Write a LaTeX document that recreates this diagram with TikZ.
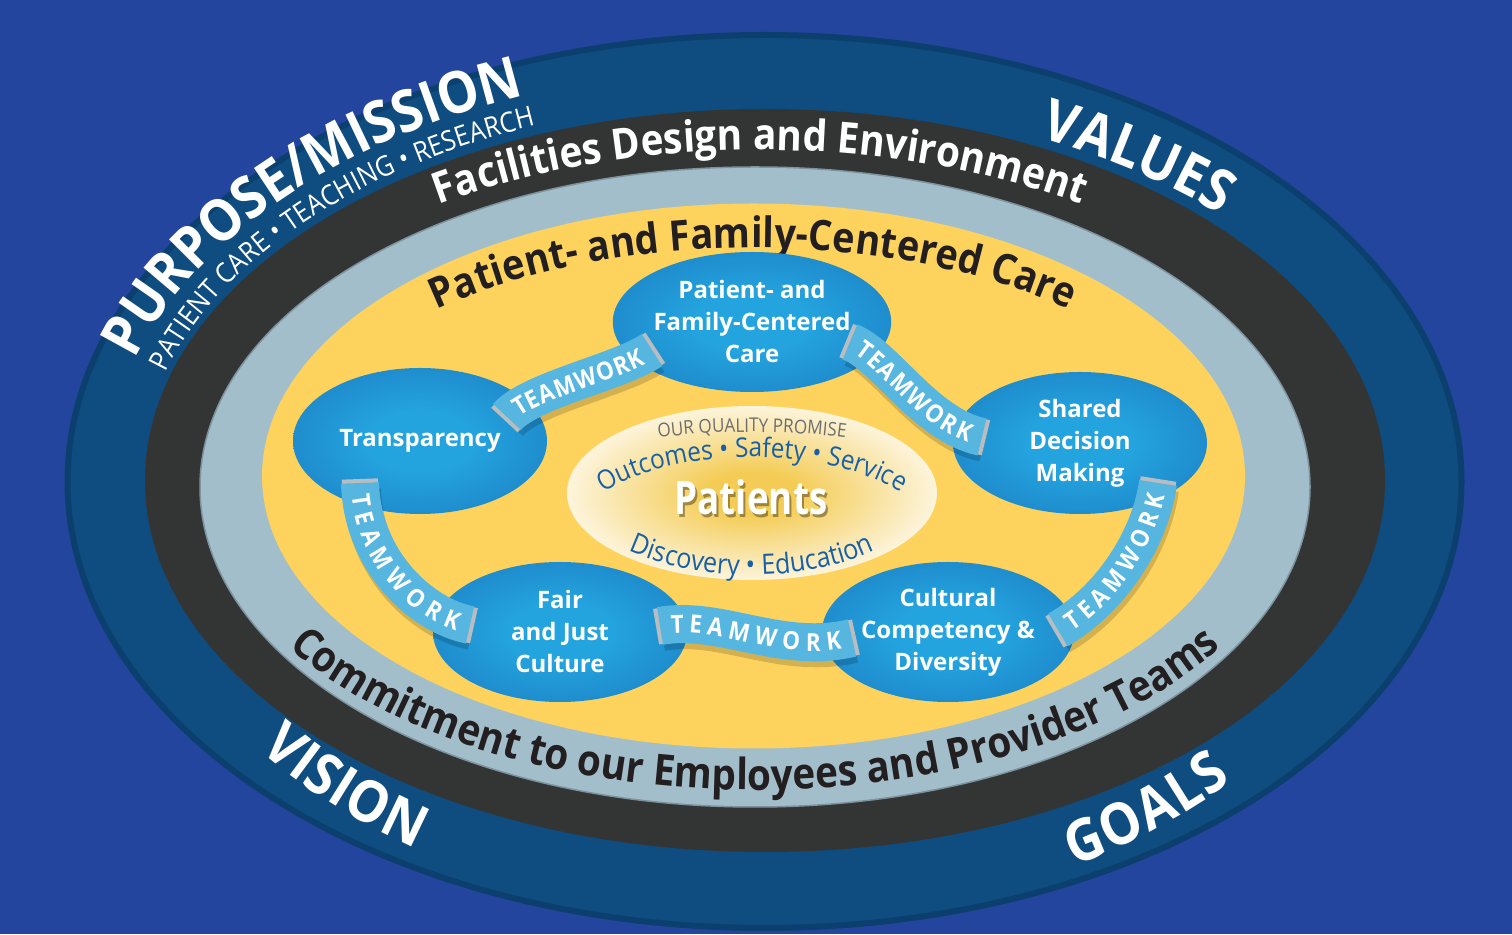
\documentclass[tikz,border=0pt]{standalone}
\usepackage{fontspec}
\setmainfont{Open Sans}
\newfontfamily\ringfont[FakeStretch=0.9]{Open Sans}
\newfontfamily\narrowfont[FakeStretch=0.8]{Open Sans}
\usetikzlibrary{shapes.geometric,decorations.text}

\definecolor{bgblue}{HTML}{24459E}
\definecolor{outerblue}{HTML}{0F4C7F}
\definecolor{outerrim}{HTML}{0B3F6E}
\definecolor{ringblack}{HTML}{333535}
\definecolor{ringgrey}{HTML}{A3BECB}
\definecolor{ringgreyedge}{HTML}{7E939D}
\definecolor{careyellow}{HTML}{FDD35E}
\definecolor{discin}{HTML}{24A4DF}
\definecolor{discout}{HTML}{1666B2}
\definecolor{teamblue}{HTML}{56B6E0}
\definecolor{tabgrey}{HTML}{B9BDC0}
\definecolor{inktext}{HTML}{231F20}
\definecolor{promiseblue}{HTML}{1760A8}
\definecolor{promisegrey}{HTML}{6D6E70}
\definecolor{glowin}{HTML}{F4CC55}

\pgfdeclareradialshading{bluedisc}{\pgfpoint{0bp}{0bp}}{color(0bp)=(discin); color(10bp)=(discin); color(50bp)=(discout)}
\pgfdeclareradialshading{patientglow}{\pgfpoint{0bp}{0bp}}{color(0bp)=(glowin); color(6bp)=(glowin); color(30bp)=(white); color(50bp)=(white)}

\tikzset{
	disc/.style={ellipse, shade, shading=bluedisc, minimum width=254pt, minimum height=140pt, inner sep=0pt,
		text=white, align=center, font=\bfseries\fontsize{24}{32}\selectfont},
	ribbon/.style={line width=38pt, draw=teamblue,
		preaction={draw=black, draw opacity=0.16, line width=38pt, transform canvas={xshift=2pt, yshift=-6pt}},
		preaction={draw=tabgrey, line width=36pt, shorten <=-4pt, shorten >=-4pt},
		postaction={decorate, decoration={text along path, text color=white, raise=-8.9pt,
			text={|\ringfont\bfseries\fontsize{25}{25}\selectfont|TEAMWORK},
			text align={fit to path, left indent=11pt, right indent=11pt}}}}
}

\begin{document}
\begin{tikzpicture}[x=1pt, y=1pt]
	\useasboundingbox (0,0) rectangle (1512,934);
	\fill[bgblue] (0,0) rectangle (1512,934);

	% rings
	\coordinate (ringc) at (764,453);
	\coordinate (blackc) at (760,454);
	\coordinate (greyc) at (755,447);
	\coordinate (yellowc) at (753,458);
	\fill[outerblue, draw=outerrim, line width=6pt] (764.5,452.5) ellipse [x radius=697pt, y radius=446.5pt];
	\fill[ringblack] (765,453.5) ellipse [x radius=620pt, y radius=371.5pt];
	\fill[ringgrey, draw=ringgreyedge, line width=1.5pt] (greyc) ellipse [x radius=555pt, y radius=320pt];
	\fill[careyellow] (753.5,458) ellipse [x radius=491.5pt, y radius=272.5pt];

	% words round the outer ring
	\path[decorate, decoration={text along path, text color=white,
		text={|\ringfont\bfseries\fontsize{58}{58}\selectfont|PURPOSE/MISSION}}]
		([shift={(ringc)}]163:658pt and 414pt) arc[start angle=163, end angle=80, x radius=658pt, y radius=414pt];
	\path[decorate, decoration={text along path, text color=white,
		text={|\ringfont\fontsize{28}{28}\selectfont|PATIENT CARE • TEACHING • RESEARCH}}]
		([shift={(ringc)}]163.5:624pt and 382pt) arc[start angle=163.5, end angle=80, x radius=624pt, y radius=382pt];
	\path[decorate, decoration={text along path, text color=white, text align={fit to path},
		text={|\ringfont\bfseries\fontsize{58}{58}\selectfont|VALUES}}]
		([shift={(ringc)}]64.5:640pt and 380pt) arc[start angle=64.5, end angle=44.5, x radius=640pt, y radius=380pt];
	\path[decorate, decoration={text along path, text color=white, text align={fit to path},
		text={|\ringfont\bfseries\fontsize{58}{58}\selectfont|VISION}}]
		([shift={(ringc)}]218:640pt and 438pt) arc[start angle=218, end angle=237, x radius=640pt, y radius=438pt];
	\path[decorate, decoration={text along path, text color=white, text align={fit to path},
		text={|\ringfont\bfseries\fontsize{58}{58}\selectfont|GOALS}}]
		([shift={(ringc)}]299:640pt and 440pt) arc[start angle=299, end angle=317, x radius=640pt, y radius=440pt];

	% inner rings
	\path[decorate, decoration={text along path, text color=white, text align=center,
		text={|\ringfont\bfseries\fontsize{43}{43}\selectfont|Facilities Design and Environment}}]
		([shift={(blackc)}]140:585pt and 330pt) arc[start angle=140, end angle=40, x radius=585pt, y radius=330pt];
	\path[decorate, decoration={text along path, text color=inktext, text align=center,
		text={|\ringfont\bfseries\fontsize{43}{43}\selectfont|Commitment to our Employees and Provider Teams}}]
		([shift={(greyc)}]200:549pt and 303pt) arc[start angle=200, end angle=340, x radius=549pt, y radius=303pt];
	\path[decorate, decoration={text along path, text color=inktext, text align=center,
		text={|\ringfont\bfseries\fontsize{42}{42}\selectfont|Patient- and Family-Centered Care}}]
		([shift={(yellowc)}]155:462pt and 228pt) arc[start angle=155, end angle=25, x radius=462pt, y radius=228pt];

	% quality promise
	\coordinate (promisec) at (752,441);
	\shade[shading=patientglow] (promisec) ellipse [x radius=185pt, y radius=87pt];
	\path[decorate, decoration={text along path, text color=promisegrey, text align=center,
		text={|\ringfont\fontsize{19}{19}\selectfont|OUR QUALITY PROMISE}}]
		([shift={(promisec)}]130:220pt and 61pt) arc[start angle=130, end angle=50, x radius=220pt, y radius=61pt];
	\path[decorate, decoration={text along path, text color=promiseblue, text align=center,
		text={|\ringfont\fontsize{27}{27}\selectfont|Outcomes • Safety • Service}}]
		([shift={(752,392)}]170:182pt and 85pt) arc[start angle=170, end angle=10, x radius=182pt, y radius=85pt];
	\path[decorate, decoration={text along path, text color=promiseblue, text align=center,
		text={|\ringfont\fontsize{28}{28}\selectfont|Discovery • Education}}]
		([shift={(752,464)}]205:191pt and 105pt) arc[start angle=205, end angle=335, x radius=191pt, y radius=105pt];
	\node[font=\narrowfont\bfseries\fontsize{46}{46}\selectfont, text=black!70!glowin, opacity=0.5] (patientsshade) at (753,434) {Patients};
	\node[font=\narrowfont\bfseries\fontsize{46}{46}\selectfont, text=white] (patients) at (751,437) {Patients};

	% discs
	\node[disc] (pfcc) at (752,612) {Patient- and\\Family-Centered\\Care};
	\node[disc, minimum height=146pt] (transp) at (420,493) {Transparency};
	\node[disc, minimum height=142pt] (shared) at (1080,491) {Shared\\Decision\\Making};
	\node[disc] (fair) at (560,302) {Fair\\and Just\\Culture};
	\node[disc, minimum width=252pt] (cultural) at (948,302) {Cultural\\Competency \&\\Diversity};

	% teamwork ribbons
	\coordinate (ta1) at (507,517); \coordinate (ta2) at (530,544);
	\coordinate (ta3) at (620,562); \coordinate (ta4) at (652,584);
	\coordinate (tb1) at (850,592); \coordinate (tb2) at (885,579);
	\coordinate (tb3) at (925,509); \coordinate (tb4) at (982,497);
	\coordinate (tc1) at (1058,304); \coordinate (tc2) at (1110,334);
	\coordinate (tc3) at (1150,394); \coordinate (tc4) at (1158,451);
	\coordinate (td1) at (360,451); \coordinate (td2) at (362,374);
	\coordinate (td3) at (420,319); \coordinate (td4) at (470,309);
	\coordinate (te1) at (660,308); \coordinate (te2) at (720,319);
	\coordinate (te3) at (780,279); \coordinate (te4) at (852,296);
	\draw[ribbon] (ta1) .. controls (ta2) and (ta3) .. (ta4);
	\draw[ribbon] (tb1) .. controls (tb2) and (tb3) .. (tb4);
	\draw[ribbon] (tc1) .. controls (tc2) and (tc3) .. (tc4);
	\draw[ribbon] (td1) .. controls (td2) and (td3) .. (td4);
	\draw[ribbon] (te1) .. controls (te2) and (te3) .. (te4);
\end{tikzpicture}
\end{document}
